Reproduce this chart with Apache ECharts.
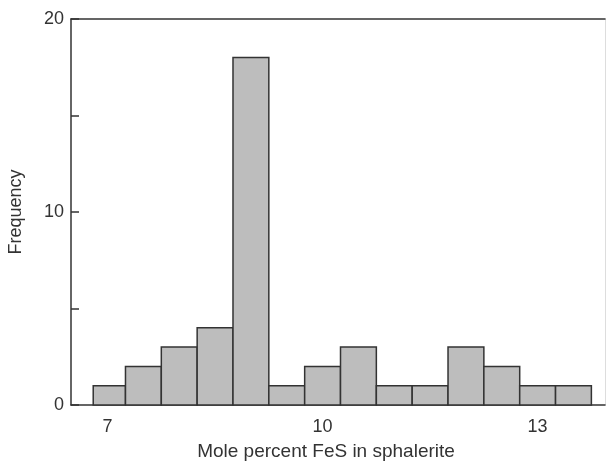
<!DOCTYPE html>
<html>
<head>
<meta charset="utf-8">
<script src="https://cdn.jsdelivr.net/npm/echarts@6/dist/echarts.min.js"></script>
<style>html,body{margin:0;padding:0;background:#fff}#c{width:607px;height:464px}</style>
</head>
<body>
<div id="c"></div>
<script>
const binStart = [6.8, 7.25, 7.75, 8.25, 8.75, 9.25, 9.75, 10.25, 10.75, 11.25, 11.75, 12.25, 12.75, 13.25];
const binEnd   = [7.25, 7.75, 8.25, 8.75, 9.25, 9.75, 10.25, 10.75, 11.25, 11.75, 12.25, 12.75, 13.25, 13.75];
const frequency = [1, 2, 3, 4, 18, 1, 2, 3, 1, 1, 3, 2, 1, 1];
const xTickLabels = [7, 10, 13];
const yTickLabels = [0, 10, 20];

const chart = echarts.init(document.getElementById('c'), null, {renderer: 'canvas'});
const font = 'Liberation Sans, Arial, Helvetica, sans-serif';
const data = frequency.map((f, i) => [binStart[i], binEnd[i], f]);

chart.setOption({
  animation: false,
  backgroundColor: '#fff',
  grid: {left: 71, right: 2, top: 19, bottom: 59, containLabel: false, outerBoundsMode: 'none'},
  xAxis: [{
    type: 'value', min: 6.49, max: 13.94,
    splitLine: {show: false},
    axisLine: {show: true, onZero: false, lineStyle: {color: '#333', width: 1.5}},
    axisTick: {show: false},
    axisLabel: {customValues: xTickLabels, color: '#333', fontSize: 18, fontFamily: font, margin: 13},
    name: 'Mole percent FeS in sphalerite', nameLocation: 'middle', nameGap: 37,
    nameTextStyle: {color: '#333', fontSize: 19, fontFamily: font, padding: [0, 24, 0, 0]}
  }, {
    type: 'value', min: 6.49, max: 13.94, position: 'top',
    splitLine: {show: false},
    axisLine: {show: true, onZero: false, lineStyle: {color: '#333', width: 1.5}},
    axisTick: {show: false}, axisLabel: {show: false}
  }],
  yAxis: [{
    type: 'value', min: 0, max: 20, interval: 5,
    splitLine: {show: false},
    axisLine: {show: true, onZero: false, lineStyle: {color: '#333', width: 1.5}},
    axisTick: {show: true, inside: true, length: 8, lineStyle: {color: '#333', width: 1.5}},
    axisLabel: {color: '#333', fontSize: 18, fontFamily: font, margin: 7,
      formatter: v => (yTickLabels.indexOf(v) >= 0 ? String(v) : '')},
    name: 'Frequency', nameLocation: 'middle', nameGap: 46,
    nameTextStyle: {color: '#333', fontSize: 18, fontFamily: font}
  }, {
    type: 'value', min: 0, max: 20, position: 'right',
    splitLine: {show: false},
    axisLine: {show: true, onZero: false, lineStyle: {color: '#ddd', width: 1}},
    axisTick: {show: false}, axisLabel: {show: false}
  }],
  series: [{
    type: 'custom',
    data: data,
    encode: {x: [0, 1], y: 2},
    renderItem: function (params, api) {
      const p0 = api.coord([api.value(0), 0]);
      const p1 = api.coord([api.value(1), api.value(2)]);
      return {
        type: 'rect',
        shape: {x: p0[0], y: p1[1], width: p1[0] - p0[0], height: p0[1] - p1[1]},
        style: {fill: '#bdbdbd', stroke: '#333', lineWidth: 1.5}
      };
    }
  }]
});
</script>
</body>
</html>
